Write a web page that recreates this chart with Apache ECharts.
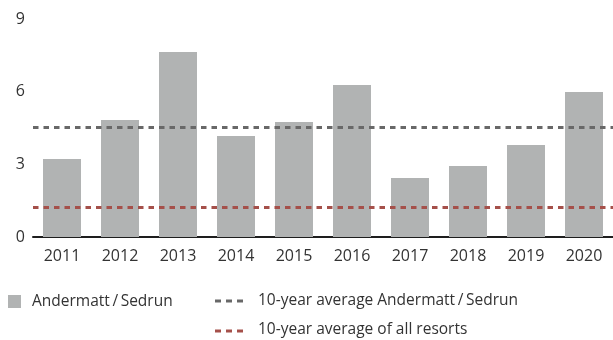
<!DOCTYPE html>
<html>
<head>
<meta charset="utf-8">
<style>
  html, body { margin: 0; padding: 0; background: #ffffff; }
  #chart { width: 613px; height: 340px; }
</style>
<script src="https://cdn.jsdelivr.net/npm/echarts@6/dist/echarts.min.js"></script>
</head>
<body>
<div id="chart"></div>
<script>
// Years on the category axis
const years = ['2011', '2012', '2013', '2014', '2015', '2016', '2017', '2018', '2019', '2020'];
// Yearly values for Andermatt / Sedrun
const resortValues = [3.22, 4.83, 7.64, 4.17, 4.75, 6.28, 2.44, 2.93, 3.80, 5.99];
// Reference levels drawn as dashed lines
const avgResort = 4.53;
const avgAllResorts = 1.24;
// Value axis ticks
const yTicks = [0, 3, 6, 9];

const seriesName = 'Andermatt\u2009/\u2009Sedrun';
const avgResortName = '10-year average Andermatt\u2009/\u2009Sedrun';
const avgAllName = '10-year average of all resorts';

const FONT = '"Open Sans", "Noto Sans", sans-serif';
const TEXT = '#333333';
const BAR = '#b1b3b3';
const GREY_LINE = '#686868';
const RED_LINE = '#a5504a';
const LEGEND_FONT = '15.5px ' + FONT;

const chart = echarts.init(document.getElementById('chart'), null, { renderer: 'canvas' });

// Small three-dash legend swatch
function dashSwatch(x, y, color) {
  return [0, 1, 2].map(i => ({
    type: 'rect',
    shape: { x: x + i * 11, y: y - 1.5, width: 6, height: 3 },
    style: { fill: color },
    silent: true
  }));
}

chart.setOption({
  animation: false,
  backgroundColor: '#ffffff',
  textStyle: { fontFamily: FONT },
  grid: { left: 33, right: -2, top: 19, bottom: 103, containLabel: false },
  xAxis: {
    type: 'category',
    data: years,
    axisLine: { show: true, lineStyle: { color: '#1e1e1e', width: 2 } },
    axisTick: { show: false },
    axisLabel: { color: TEXT, fontSize: 16, fontFamily: FONT, margin: 11 }
  },
  yAxis: {
    type: 'value',
    min: yTicks[0],
    max: yTicks[yTicks.length - 1],
    interval: yTicks[1] - yTicks[0],
    axisLine: { show: false },
    axisTick: { show: false },
    splitLine: { show: false },
    axisLabel: { color: TEXT, fontSize: 16, fontFamily: FONT, margin: 8 }
  },
  series: [
    {
      name: seriesName,
      type: 'bar',
      data: resortValues,
      barWidth: 38,
      itemStyle: { color: BAR },
      markLine: {
        silent: true,
        symbol: 'none',
        label: { show: false },
        data: [
          { name: avgResortName, yAxis: avgResort,
            lineStyle: { color: GREY_LINE, width: 3, type: [5.5, 5], cap: 'butt' } },
          { name: avgAllName, yAxis: avgAllResorts,
            lineStyle: { color: RED_LINE, width: 3, type: [5.5, 5], cap: 'butt' } }
        ]
      }
    }
  ],
  graphic: [
    { type: 'rect', shape: { x: 8, y: 295, width: 13, height: 13 }, style: { fill: BAR }, silent: true },
    { type: 'text', x: 32, y: 302, style: { text: seriesName, fill: TEXT, font: LEGEND_FONT, textVerticalAlign: 'middle' }, silent: true },
    ...dashSwatch(215, 301, GREY_LINE),
    { type: 'text', x: 258, y: 301, style: { text: avgResortName, fill: TEXT, font: LEGEND_FONT, textVerticalAlign: 'middle' }, silent: true },
    ...dashSwatch(215, 331, RED_LINE),
    { type: 'text', x: 258, y: 330, style: { text: avgAllName, fill: TEXT, font: LEGEND_FONT, textVerticalAlign: 'middle' }, silent: true }
  ]
});
</script>
</body>
</html>
